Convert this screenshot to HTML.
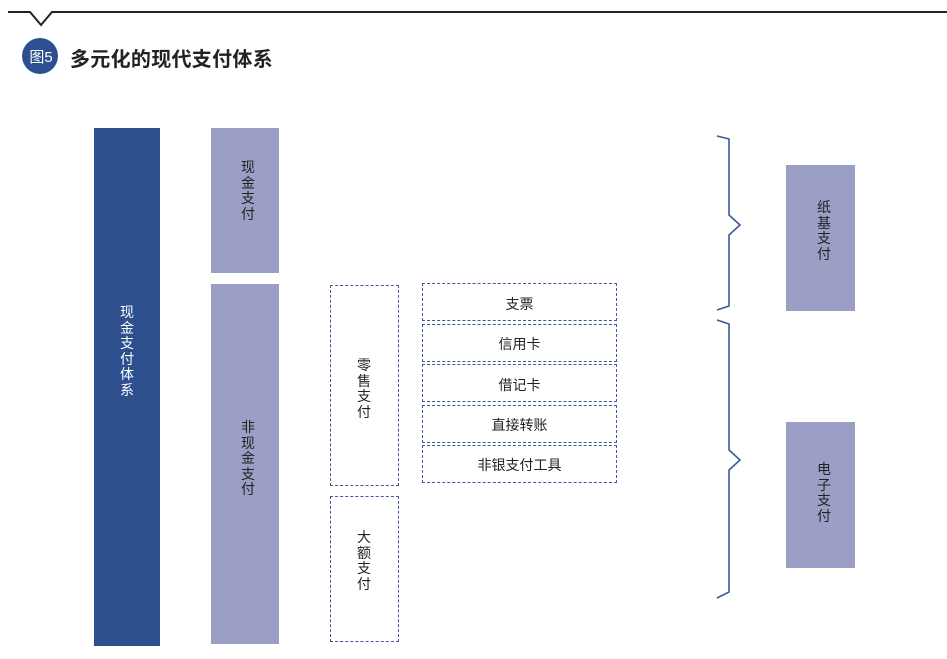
<!DOCTYPE html>
<html><head><meta charset="utf-8"><style>
body{margin:0;width:947px;height:659px;background:#fff;position:relative;overflow:hidden;font-family:"Liberation Sans","Noto Sans CJK SC",sans-serif;}
.b{position:absolute;box-sizing:border-box;}
.p{background:#9b9fc6;}
.d{border:1px dashed #3d5a9a;}
.v{position:absolute;width:20px;font-size:14px;line-height:15.5px;text-align:center;color:#222;}
.h{position:absolute;left:0;right:0;text-align:center;font-size:14px;color:#222;}
</style></head><body>
<svg class="b" style="left:0;top:0" width="947" height="659">
<polyline points="8,12 30,12 41,25 52,12 947,12" fill="none" stroke="#222" stroke-width="2"/>
<circle cx="40" cy="56" r="18" fill="#2d4f8e"/>
<polyline points="717,136 729,139 729,215 740,225 729,235 729,306 717,310" fill="none" stroke="#3d5a9a" stroke-width="1.6"/>
<polyline points="717,320 729,324 729,450 740,460 729,470 729,592 717,598" fill="none" stroke="#3d5a9a" stroke-width="1.6"/>
</svg>
<div class="b" style="left:27px;top:46px;width:28px;color:#fff;font-size:15px;text-align:center">图5</div>
<div class="b" style="left:70px;top:43px;font-size:20px;font-weight:bold;color:#222;letter-spacing:0.3px">多元化的现代支付体系</div>

<div class="b" style="left:94px;top:128px;width:66px;height:518px;background:#2d4f8e"></div>
<div class="v" style="left:117px;top:305px;color:#fff">现<br>金<br>支<br>付<br>体<br>系</div>

<div class="b p" style="left:211px;top:128px;width:68px;height:145px"></div>
<div class="v" style="left:238px;top:160px">现<br>金<br>支<br>付</div>
<div class="b p" style="left:211px;top:284px;width:68px;height:360px"></div>
<div class="v" style="left:238px;top:420px">非<br>现<br>金<br>支<br>付</div>

<div class="b d" style="left:330px;top:285px;width:69px;height:201px"></div>
<div class="v" style="left:354px;top:358px">零<br>售<br>支<br>付</div>
<div class="b d" style="left:330px;top:496px;width:69px;height:146px"></div>
<div class="v" style="left:354px;top:530px">大<br>额<br>支<br>付</div>

<div class="b d" style="left:422px;top:283px;width:195px;height:38px"><div class="h" style="top:10px">支票</div></div>
<div class="b d" style="left:422px;top:324px;width:195px;height:38px"><div class="h" style="top:9px">信用卡</div></div>
<div class="b d" style="left:422px;top:364px;width:195px;height:38px"><div class="h" style="top:10px">借记卡</div></div>
<div class="b d" style="left:422px;top:405px;width:195px;height:38px"><div class="h" style="top:9px">直接转账</div></div>
<div class="b d" style="left:422px;top:445px;width:195px;height:38px"><div class="h" style="top:9px">非银支付工具</div></div>

<div class="b p" style="left:786px;top:165px;width:69px;height:146px"></div>
<div class="v" style="left:814px;top:200px">纸<br>基<br>支<br>付</div>
<div class="b p" style="left:786px;top:422px;width:69px;height:146px"></div>
<div class="v" style="left:814px;top:462px">电<br>子<br>支<br>付</div>
</body></html>
